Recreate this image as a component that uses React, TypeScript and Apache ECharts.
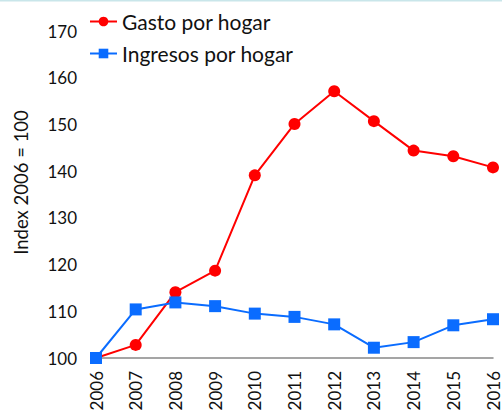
import React, { useEffect, useRef } from "react";
import * as echarts from "echarts";

const years = ["2006", "2007", "2008", "2009", "2010", "2011", "2012", "2013", "2014", "2015", "2016"];
const gasto = [100, 102.8, 114.1, 118.7, 139.1, 150.1, 157.1, 150.7, 144.4, 143.2, 140.8];
const ingresos = [100, 110.4, 111.9, 111.1, 109.5, 108.8, 107.2, 102.2, 103.4, 107.0, 108.3];

const FONT = "Lato, sans-serif";

export default function App() {
  const ref = useRef<HTMLDivElement>(null);
  useEffect(() => {
    const chart = echarts.init(ref.current!, null, { renderer: "svg" });
    chart.setOption({
      animation: false,
      backgroundColor: "#ffffff",
      textStyle: { fontFamily: FONT },
      grid: { left: 96, right: 9, top: 31, bottom: 52, outerBoundsMode: "none", containLabel: false },
      legend: {
        orient: "vertical",
        left: 89,
        top: 11,
        padding: 0,
        itemGap: 11,
        itemWidth: 27,
        itemHeight: 12,
        textStyle: { fontFamily: FONT, fontSize: 21, color: "#111" },
        data: ["Gasto por hogar", "Ingresos por hogar"],
      },
      graphic: [
        { type: "line", shape: { x1: 0, y1: 0.5, x2: 502, y2: 0.5 }, style: { stroke: "#c9e6ea", lineWidth: 2 } },
      ],
      xAxis: {
        type: "category",
        data: years,
        boundaryGap: false,
        axisLine: { lineStyle: { color: "#888", width: 1.5 } },
        axisTick: { show: false },
        axisLabel: { rotate: 90, fontSize: 17, color: "#111", margin: 13, fontFamily: FONT },
      },
      yAxis: {
        type: "value",
        min: 100,
        max: 170,
        interval: 10,
        name: "Index 2006 = 100",
        nameLocation: "middle",
        nameGap: 66,
        nameTextStyle: { fontSize: 18.5, color: "#111", fontFamily: FONT, padding: [0, 0, 0, 24] },
        axisLine: { show: false },
        axisTick: { show: false },
        splitLine: { show: false },
        axisLabel: { fontSize: 17, color: "#111", margin: 19, fontFamily: FONT },
      },
      series: [
        {
          name: "Gasto por hogar",
          type: "line",
          data: gasto,
          symbol: "circle",
          symbolSize: 12,
          itemStyle: { color: "#ff0000" },
          lineStyle: { color: "#ff0000", width: 2 },
          z: 3,
        },
        {
          name: "Ingresos por hogar",
          type: "line",
          data: ingresos,
          symbol: "rect",
          symbolSize: 12,
          itemStyle: { color: "#0a6cff" },
          lineStyle: { color: "#0a6cff", width: 2 },
          z: 4,
        },
      ],
    });
    return () => chart.dispose();
  }, []);
  return <div ref={ref} style={{ width: 502, height: 410, position: "absolute", left: 0, top: 0 }} />;
}
